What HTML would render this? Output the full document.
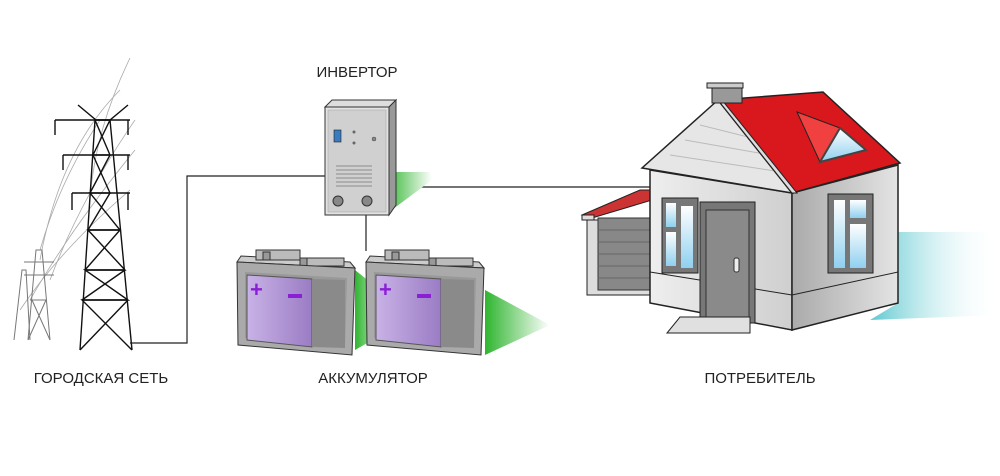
<!DOCTYPE html>
<html><head><meta charset="utf-8"><style>
html,body{margin:0;padding:0;background:#fff;}
svg{display:block}
text{font-family:"Liberation Sans","DejaVu Sans",sans-serif;font-size:15px;fill:#222}
</style></head><body>
<svg width="1000" height="476" viewBox="0 0 1000 476" xmlns="http://www.w3.org/2000/svg">
<defs>
<linearGradient id="gr" x1="0" x2="1"><stop offset="0" stop-color="#2fb52f"/><stop offset="1" stop-color="#fff"/></linearGradient>
<linearGradient id="cy" x1="0" x2="1"><stop offset="0" stop-color="#5cc8d0"/><stop offset="1" stop-color="#fff" stop-opacity="0"/></linearGradient>
<linearGradient id="pu" x1="0" x2="1"><stop offset="0" stop-color="#c9b2e6"/><stop offset="1" stop-color="#9a7cc4"/></linearGradient>
<linearGradient id="wl" x1="0" x2="1"><stop offset="0" stop-color="#eee"/><stop offset="1" stop-color="#cfcfcf"/></linearGradient>
<linearGradient id="sw" x1="0" x2="1"><stop offset="0" stop-color="#aaa"/><stop offset="1" stop-color="#e4e4e4"/></linearGradient>
<linearGradient id="gl" x1="0" y1="0" x2="0" y2="1"><stop offset="0" stop-color="#fff"/><stop offset="1" stop-color="#8fd0ef"/></linearGradient>
</defs>
<g fill="none" stroke="#aaa" stroke-width="0.8">
<path d="M130 58 Q95 130 90 200"/><path d="M120 90 Q60 150 40 260"/><path d="M135 120 Q80 200 50 280"/>
<path d="M135 150 Q70 230 30 300"/><path d="M130 190 Q60 250 20 310"/><path d="M100 120 Q60 180 40 250"/>
</g>
<g stroke="#777" stroke-width="1" fill="none">
<path d="M28 340 L36 250 L42 250 L50 340 M24 262 L54 262 M24 275 L54 275 M30 300 L46 300 M28 340 L46 300 M50 340 L32 300"/>
<path d="M14 340 L22 270 L26 270 L30 340"/>
</g>
<g stroke="#111" stroke-width="1.4" fill="none">
<path d="M80 350 L95 120 L110 120 L132 350"/>
<path d="M78 105 L96 120 L110 120 L128 105"/>
<path d="M55 120 L130 120 M63 155 L130 155 M72 193 L130 193"/>
<path d="M55 120 L55 135 M63 155 L63 170 M72 193 L72 210 M128 120 L128 135 M128 155 L128 170 M128 193 L128 210"/>
<path d="M85 270 L125 270 M82 300 L128 300 M88 230 L120 230"/>
<path d="M95 120 L110 155 L93 155 L110 193 L90 193 L120 230 L88 230 L125 270 L85 270 L128 300 L82 300 L132 350 M110 120 L93 155 M110 155 L90 193 M110 193 L88 230 M88 230 L125 270 M120 230 L85 270 M125 270 L82 300 M128 300 L80 350"/>
</g>
<path d="M130 343 H187 V176 H326 M393 187 H650 M366 214 V251" stroke="#222" stroke-width="1.2" fill="none"/>
<polygon points="390,172 430,172 432,180 385,215" fill="url(#gr)"/>
<polygon points="325,107 332,100 396,100 389,107" fill="#ddd" stroke="#333"/>
<polygon points="389,107 396,100 396,205 389,215" fill="#999" stroke="#333"/>
<rect x="325" y="107" width="64" height="108" fill="#e2e2e2" stroke="#333"/>
<rect x="328" y="110" width="58" height="102" fill="#d0d0d0" stroke="#aaa" stroke-width="0.6"/>
<rect x="334" y="130" width="7" height="12" fill="#3a7bbf" stroke="#222" stroke-width="0.6"/>
<circle cx="354" cy="132" r="1.5" fill="#666"/><circle cx="354" cy="143" r="1.5" fill="#666"/><circle cx="374" cy="139" r="2" fill="#888" stroke="#444" stroke-width="0.5"/>
<g stroke="#777" stroke-width="0.8"><path d="M336 166H372M336 170H372M336 174H372M336 178H372M336 182H372M336 186H372"/></g>
<circle cx="338" cy="201" r="5" fill="#888" stroke="#333"/><circle cx="367" cy="201" r="5" fill="#888" stroke="#333"/>
<polygon points="355,270 380,290 390,330 355,350" fill="url(#gr)"/>
<polygon points="485,290 550,325 485,355" fill="url(#gr)"/>
<g id="bat">
<polygon points="237,262 241,256 350,262 355,268" fill="#ccc" stroke="#333"/>
<rect x="256" y="250" width="44" height="10" fill="#bbb" stroke="#333"/>
<rect x="300" y="258" width="44" height="8" fill="#bbb" stroke="#333"/>
<rect x="263" y="252" width="7" height="8" fill="#999" stroke="#333"/><rect x="300" y="258" width="7" height="8" fill="#999" stroke="#333"/>
<polygon points="237,262 355,268 352,355 238,345" fill="#aaa" stroke="#333"/>
<polygon points="245,272 347,278 345,348 245,338" fill="#999"/>
<polygon points="247,275 312,279 312,347 247,340" fill="url(#pu)" stroke="#555"/>
<polygon points="312,279 345,280 345,348 312,347" fill="#8a8a8a"/>
<text x="250" y="297" style="font-size:22px;font-weight:bold;fill:#8b1fd6">+</text>
<rect x="288" y="294" width="14" height="4" fill="#8b1fd6"/>
</g>
<use href="#bat" transform="translate(129,0)"/>
<polygon points="898,232 1000,232 1000,315 870,320 898,303" fill="url(#cy)"/>
<polygon points="582,215 640,190 652,190 652,200 592,218" fill="#c33" stroke="#222"/>
<rect x="582" y="215" width="12" height="5" fill="#ddd" stroke="#222"/>
<rect x="587" y="220" width="65" height="75" fill="#ddd" stroke="#222"/>
<rect x="598" y="218" width="52" height="72" fill="#888" stroke="#333"/>
<g stroke="#666"><path d="M598 230H650M598 242H650M598 254H650M598 266H650M598 278H650"/></g>
<polygon points="650,170 792,193 792,330 650,303" fill="url(#wl)" stroke="#222" stroke-width="1.5"/>
<polygon points="792,193 898,165 898,303 792,330" fill="url(#sw)" stroke="#222" stroke-width="1.5"/>
<path d="M650 272 L792 295 L898 272" fill="none" stroke="#222"/>
<polygon points="718,100 642,168 792,193" fill="#e6e6e6" stroke="#222" stroke-width="1.5"/>
<g stroke="#bbb"><path d="M700 125L760 140M685 140L770 155M670 155L782 172"/></g>
<polygon points="718,100 823,92 900,163 792,193" fill="#d9181e" stroke="#222" stroke-width="1.5"/>
<polygon points="718,100 792,193 797,193 722,100" fill="#ddd" stroke="#222"/>
<polygon points="797,112 840,128 820,162" fill="#f04040" stroke="#222"/>
<polygon points="820,162 840,128 866,150" fill="url(#gl)" stroke="#444" stroke-width="2"/>
<rect x="712" y="86" width="30" height="17" fill="#999" stroke="#222"/>
<rect x="707" y="83" width="36" height="5" fill="#ccc" stroke="#222"/>
<rect x="662" y="198" width="36" height="75" fill="#777" stroke="#222"/>
<rect x="666" y="203" width="10" height="24" fill="url(#gl)"/><rect x="681" y="206" width="12" height="62" fill="url(#gl)"/><rect x="666" y="232" width="10" height="34" fill="url(#gl)"/>
<rect x="700" y="202" width="55" height="121" fill="#777" stroke="#222"/>
<rect x="706" y="210" width="43" height="113" fill="#8a8a8a" stroke="#333"/>
<rect x="734" y="258" width="5" height="14" rx="2" fill="#eee" stroke="#333"/>
<rect x="828" y="194" width="45" height="79" fill="#777" stroke="#222"/>
<rect x="834" y="200" width="11" height="68" fill="url(#gl)"/><rect x="850" y="200" width="16" height="18" fill="url(#gl)"/><rect x="850" y="224" width="16" height="44" fill="url(#gl)"/>
<polygon points="680,317 750,317 750,333 667,333" fill="#e0e0e0" stroke="#222"/>
<text x="357" y="77" text-anchor="middle">ИНВЕРТОР</text>
<text x="101" y="383" text-anchor="middle">ГОРОДСКАЯ СЕТЬ</text>
<text x="373" y="383" text-anchor="middle">АККУМУЛЯТОР</text>
<text x="760" y="383" text-anchor="middle">ПОТРЕБИТЕЛЬ</text>
</svg>
</body></html>
